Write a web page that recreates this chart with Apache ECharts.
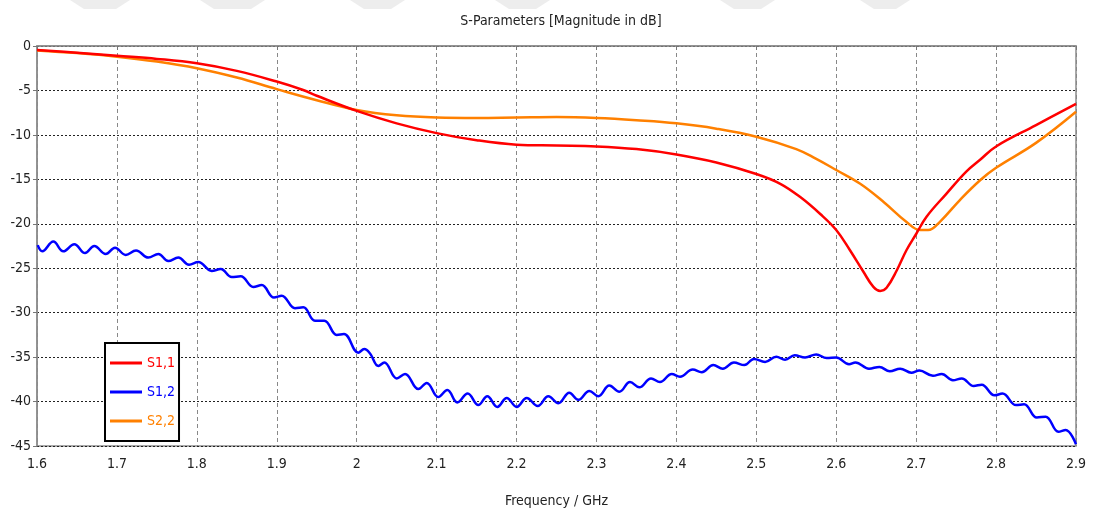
<!DOCTYPE html>
<html>
<head>
<meta charset="utf-8">
<script src="https://cdn.jsdelivr.net/npm/echarts@6/dist/echarts.min.js"></script>
<style>
html,body{margin:0;padding:0;background:#fff;}
#chart{width:1093px;height:513px;}
</style>
</head>
<body>
<div id="chart"></div>
<script>
// ---- data ----
var xTicks = ['1.6','1.7','1.8','1.9','2','2.1','2.2','2.3','2.4','2.5','2.6','2.7','2.8','2.9'];
var yTicks = ['0','-5','-10','-15','-20','-25','-30','-35','-40','-45'];

var s11Freq = [1.6,1.65,1.7,1.75,1.8,1.85,1.9,1.933,1.95,2.0,2.05,2.1,2.15,2.2,2.25,2.3,2.35,2.4,2.45,2.5,2.53,2.555,2.58,2.6,2.617,2.634,2.6465,2.655,2.663,2.676,2.688,2.7,2.713,2.738,2.763,2.78,2.8,2.85,2.9];
var s11Vals = [-0.45,-0.75,-1.1,-1.45,-1.95,-2.8,-4.0,-4.95,-5.6,-7.3,-8.7,-9.8,-10.6,-11.1,-11.2,-11.3,-11.6,-12.2,-13.1,-14.4,-15.5,-17.0,-18.9,-20.7,-22.95,-25.4,-27.1,-27.55,-27.2,-25.2,-22.95,-21.15,-19.2,-16.6,-14.1,-12.8,-11.3,-8.9,-6.5];

var s12Freq = [1.6009,1.6066,1.6204,1.6329,1.6467,1.6601,1.6717,1.6860,1.6976,1.7110,1.7239,1.7393,1.7518,1.7643,1.7768,1.7902,1.8018,1.8186,1.8299,1.8436,1.8549,1.8707,1.8812,1.8965,1.9062,1.9228,1.9332,1.9478,1.9595,1.9750,1.9841,2.0020,2.0095,2.0167,2.0271,2.0346,2.0501,2.0605,2.0771,2.0876,2.1021,2.1134,2.1259,2.1389,2.1522,2.1634,2.1760,2.1877,2.2002,2.2127,2.2265,2.2398,2.2523,2.2660,2.2773,2.2911,2.3023,2.3161,2.3286,2.3420,2.3536,2.3683,2.3795,2.3942,2.4045,2.4204,2.4317,2.4462,2.458,2.472,2.485,2.497,2.511,2.525,2.536,2.548,2.561,2.575,2.588,2.600,2.616,2.624,2.641,2.654,2.667,2.680,2.694,2.704,2.721,2.732,2.746,2.757,2.772,2.782,2.798,2.808,2.825,2.835,2.851,2.862,2.878,2.887,2.9];
var s12Vals = [-22.4,-23.1,-22.0,-23.1,-22.3,-23.3,-22.5,-23.4,-22.7,-23.5,-23.0,-23.8,-23.4,-24.2,-23.8,-24.6,-24.3,-25.3,-25.1,-26.0,-25.9,-27.1,-26.9,-28.3,-28.1,-29.5,-29.4,-30.9,-30.9,-32.5,-32.4,-34.5,-34.1,-34.6,-36.0,-35.6,-37.4,-36.9,-38.6,-37.9,-39.5,-38.7,-40.1,-39.1,-40.4,-39.4,-40.6,-39.6,-40.6,-39.6,-40.5,-39.4,-40.2,-39.0,-39.8,-38.8,-39.4,-38.2,-38.9,-37.8,-38.4,-37.4,-37.8,-36.9,-37.2,-36.4,-36.7,-35.9,-36.3,-35.6,-35.9,-35.2,-35.55,-34.95,-35.3,-34.8,-35.05,-34.7,-35.1,-35.05,-35.8,-35.6,-36.3,-36.1,-36.6,-36.3,-36.75,-36.5,-37.1,-36.9,-37.6,-37.4,-38.25,-38.1,-39.3,-39.1,-40.4,-40.3,-41.8,-41.7,-43.4,-43.2,-44.8];

var s22Freq = [1.6,1.65,1.7,1.75,1.8,1.85,1.9,1.95,2.0,2.05,2.1,2.15,2.2,2.25,2.3,2.35,2.4,2.45,2.5,2.55,2.575,2.6,2.63,2.66,2.688,2.705,2.715,2.73,2.755,2.78,2.8,2.85,2.9];
var s22Vals = [-0.5,-0.8,-1.2,-1.75,-2.5,-3.55,-4.85,-6.1,-7.2,-7.8,-8.05,-8.1,-8.05,-8.0,-8.1,-8.35,-8.7,-9.3,-10.2,-11.6,-12.7,-13.95,-15.5,-17.6,-19.8,-20.7,-20.7,-19.75,-17.3,-15.1,-13.7,-10.9,-7.4];

var seriesNames = ['S1,1','S1,2','S2,2'];
var seriesColors = ['#ff0000','#0000ff','#ff8000'];
var titleText = 'S-Parameters [Magnitude in dB]';
var xName = 'Frequency / GHz';

function pairs(xs, ys){ return xs.map(function(x,i){ return [x, ys[i]]; }); }

var FONT = "'DejaVu Sans Condensed','Liberation Sans Narrow',sans-serif";

var chart = echarts.init(document.getElementById('chart'), null, {renderer:'canvas'});

var wm = [];
[[70,130],[200,265],[350,405],[495,550],[720,775],[860,910]].forEach(function(s){
  wm.push({type:'polygon', silent:true, z:-1,
    shape:{points:[[s[0],0],[s[1],0],[s[1]-14,9],[s[0]+14,9]]},
    style:{fill:'#ededed'}});
});

chart.setOption({
  animation:false,
  backgroundColor:'#ffffff',
  graphic: wm,
  title:{
    text:titleText, left:556, top:9, textAlign:'center',
    textStyle:{fontFamily:FONT, fontSize:14, fontWeight:'normal', color:'#222'}
  },
  grid:{left:37, right:17, top:46, bottom:67, show:true, borderColor:'#8c8c8c', borderWidth:1.5, containLabel:false},
  legend:{
    orient:'vertical', left:105, top:343,
    backgroundColor:'#fff', borderColor:'#000', borderWidth:2, borderRadius:0,
    padding:[13,4,13,5], itemGap:15, itemWidth:32, itemHeight:3, icon:'rect',
    textStyle:{fontFamily:FONT, fontSize:14},
    data: seriesNames.map(function(n,i){ return {name:n, textStyle:{color:seriesColors[i]}}; })
  },
  xAxis:{
    type:'value', min:1.6, max:2.9, interval:0.1,
    name:xName, nameLocation:'middle', nameGap:48,
    nameTextStyle:{fontFamily:FONT, fontSize:14, color:'#222'},
    axisLine:{show:true, lineStyle:{color:'#8c8c8c', width:1.5}},
    axisTick:{show:true, length:4, lineStyle:{color:'#777'}},
    axisLabel:{fontFamily:FONT, fontSize:14, color:'#222', margin:11,
      formatter:function(v){ var s=(+v.toFixed(1)).toString(); return xTicks.indexOf(s)>=0? s : ''; }},
    splitLine:{show:true, lineStyle:{color:'#888', type:[4,3], width:1}}
  },
  yAxis:{
    type:'value', min:-45, max:0, interval:5,
    axisLine:{show:true, lineStyle:{color:'#8c8c8c', width:1.5}},
    axisTick:{show:true, length:4, lineStyle:{color:'#777'}},
    axisLabel:{fontFamily:FONT, fontSize:14, color:'#222', margin:6,
      formatter:function(v){ var s=Math.round(v).toString(); return yTicks.indexOf(s)>=0? s : ''; }},
    splitLine:{show:true, lineStyle:{color:'#222', type:[2,2], width:1}}
  },
  series:[
    {name:seriesNames[0], type:'line', data:pairs(s11Freq,s11Vals), smooth:0.4, showSymbol:false, symbol:'none',
      lineStyle:{color:seriesColors[0], width:2.5}, itemStyle:{color:seriesColors[0]}, z:3},
    {name:seriesNames[1], type:'line', data:pairs(s12Freq,s12Vals), smooth:0.4, showSymbol:false, symbol:'none',
      lineStyle:{color:seriesColors[1], width:2.5}, itemStyle:{color:seriesColors[1]}, z:2},
    {name:seriesNames[2], type:'line', data:pairs(s22Freq,s22Vals), smooth:0.4, showSymbol:false, symbol:'none',
      lineStyle:{color:seriesColors[2], width:2.5}, itemStyle:{color:seriesColors[2]}, z:2}
  ]
});
</script>
</body>
</html>
